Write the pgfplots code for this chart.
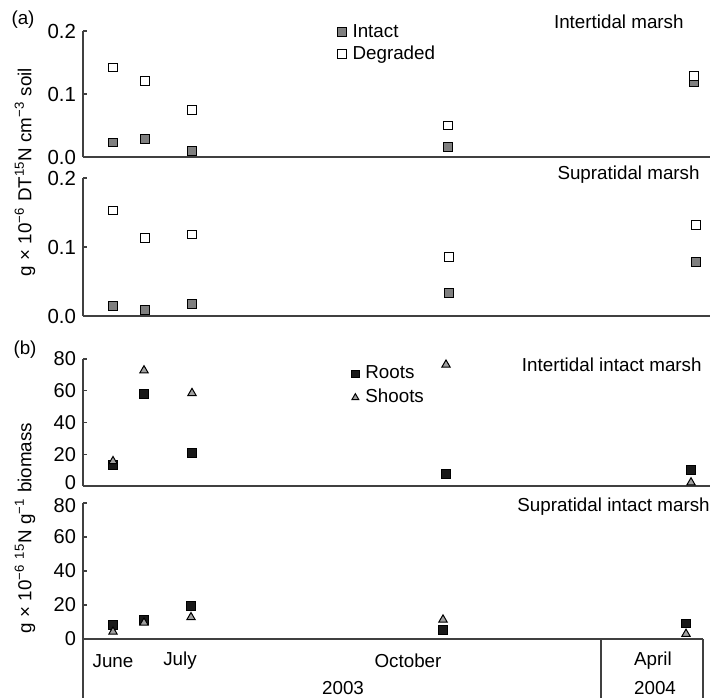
\documentclass[border=0pt]{standalone}
\usepackage{fontspec}
\setmainfont{Liberation Sans}
\usepackage{pgfplots}
\pgfplotsset{compat=1.18}
\definecolor{axgray}{HTML}{404040}
\definecolor{intact}{HTML}{7F7F7F}
\definecolor{shoot}{HTML}{A0A0A0}
\newcommand{\lbl}{\fontsize{9.4}{11}\selectfont}
\pgfplotsset{
 panel/.style={scale only axis, width=313.5pt, xmin=0, xmax=627, clip=false,
  axis x line*=bottom, axis y line*=left,
  axis line style={-, draw=axgray, line width=0.7pt},
  xtick=\empty, tick align=inside, major tick length=2.2pt,
  tick style={axgray, line width=0.6pt},
  /pgf/number format/assume math mode=true,
  scaled y ticks=false,
  anchor=south west,
  legend cell align=left,
  legend style={draw=none, fill=none, font=\lbl, inner sep=0pt, column sep=2pt,
    nodes={inner sep=1.2pt}},
 },
 soil/.style={ymin=0, ymax=0.2, ytick={0,0.1,0.2},
   yticklabel style={font=\fontsize{10.2}{11}\selectfont, inner ysep=0.5pt, /pgf/number format/.cd, fixed, fixed zerofill, precision=1}},
 bio/.style={ymin=0, ymax=80,
   yticklabel style={font=\fontsize{10}{11}\selectfont, inner ysep=0.2pt},
   extra tick style={major tick length=2.2pt, tick style={axgray, line width=0.6pt}}},
 intactm/.style={only marks, mark=square*, mark size=2.2pt,
   mark options={fill=intact, draw=black, line width=0.5pt},
   legend image code/.code={\draw[##1] plot coordinates {(0pt,0pt)};}},
 degm/.style={only marks, mark=square*, mark size=2.2pt,
   mark options={fill=white, draw=black, line width=0.5pt},
   legend image code/.code={\draw[##1] plot coordinates {(0pt,0pt)};}},
 rootm/.style={only marks, mark=square*, mark size=2.2pt,
   mark options={fill=black!90, draw=black, line width=0.4pt},
   legend image code/.code={\draw[##1, mark size=1.8pt] plot coordinates {(0pt,0pt)};}},
 shootm/.style={only marks, mark=triangle*, mark size=2.4pt,
   mark options={fill=shoot, draw=black, line width=0.5pt},
   legend image code/.code={\draw[##1, mark size=2pt] plot coordinates {(0pt,0pt)};}},
}
\begin{document}
\begin{tikzpicture}
% Panel 1: Intertidal marsh
\begin{axis}[panel, soil, height=63pt, at={(41.5pt,-78.5pt)},
  legend style={at={(0.405,1.075)}, anchor=north west, row sep=0.5pt}]
\addplot[intactm] coordinates {(30,0.023) (62,0.028) (109,0.010) (365,0.016) (611,0.119)};
\addlegendentry{Intact}
\addplot[degm] coordinates {(30,0.142) (62,0.121) (109,0.074) (365,0.050) (611,0.128)};
\addlegendentry{Degraded}
\end{axis}
% Panel 2: Supratidal marsh
\begin{axis}[panel, soil, height=69pt, at={(41.5pt,-158pt)}]
\addplot[intactm] coordinates {(30,0.014) (62,0.009) (109,0.017) (366,0.033) (613,0.078)};
\addplot[degm] coordinates {(30,0.153) (62,0.113) (109,0.118) (366,0.086) (613,0.132)};
\end{axis}
% Panel 3: Intertidal intact marsh
\begin{axis}[panel, bio, height=63.5pt, at={(41.5pt,-243pt)},
  ytick={20,40,60,80}, extra y ticks={0},
  extra y tick style={yticklabel style={yshift=1.5pt}},
  legend style={at={(0.428,0.97)}, anchor=north west, row sep=1.5pt}]
\addplot[rootm] coordinates {(30,13.1) (61,57.8) (109,20.9) (363,7.4) (608,10.4)};
\addlegendentry{Roots}
\addplot[shootm] coordinates {(30,15.6) (61,72.8) (109,58.5) (363,76.4) (608,2.2)};
\addlegendentry{Shoots}
\end{axis}
% Panel 4: Supratidal intact marsh
\begin{axis}[panel, bio, height=68pt, width=310pt, xmax=620, at={(41.5pt,-319.5pt)},
  ytick={0,20,40,60}, extra y ticks={80},
  extra y tick style={yticklabel style={yshift=-1.5pt}}]
\addplot[rootm] coordinates {(30,8.3) (61,11.2) (108,19.5) (360,5.5) (603,9.2)};
\addplot[shootm] coordinates {(30,4.3) (61,9.6) (108,12.8) (360,11.4) (603,3.0)};
\end{axis}
% titles and labels
\node[font=\lbl, anchor=east, inner sep=0pt] at (342pt,-11pt) {Intertidal marsh};
\node[font=\lbl, anchor=east, inner sep=0pt] at (350pt,-87.5pt) {Supratidal marsh};
\node[font=\lbl, anchor=east, inner sep=0pt] at (351pt,-182.5pt) {Intertidal intact marsh};
\node[font=\lbl, anchor=west, inner sep=0pt] at (258.5pt,-253.5pt) {Supratidal intact marsh};
\node[font=\lbl] at (11.5pt,-10pt) {(a)};
\node[font=\lbl] at (12.5pt,-175pt) {(b)};
\node[font=\lbl, rotate=90] at (12.5pt,-86pt) {g × 10\textsuperscript{−6} DT\textsuperscript{15}N cm\textsuperscript{−3} soil};
\node[font=\lbl, rotate=90] at (12.5pt,-264pt) {g × 10\textsuperscript{−6} \textsuperscript{15}N g\textsuperscript{−1} biomass};
% time axis box
\draw[axgray, line width=0.7pt] (41.5pt,-319.5pt) -- (41.5pt,-352pt);
\draw[axgray, line width=0.7pt] (300.5pt,-319.5pt) -- (300.5pt,-352pt);
\draw[axgray, line width=0.7pt] (351.5pt,-319.5pt) -- (351.5pt,-352pt);
\node[font=\lbl] at (56.5pt,-330.5pt) {June};
\node[font=\lbl] at (90pt,-330.5pt) {July};
\node[font=\lbl] at (204pt,-330.5pt) {October};
\node[font=\lbl] at (326.5pt,-330.5pt) {April};
\node[font=\lbl] at (171.5pt,-344pt) {2003};
\node[font=\lbl] at (327.5pt,-344pt) {2004};
\pgfresetboundingbox
\useasboundingbox (0pt,0pt) rectangle (355pt,-348.5pt);
\end{tikzpicture}
\end{document}
